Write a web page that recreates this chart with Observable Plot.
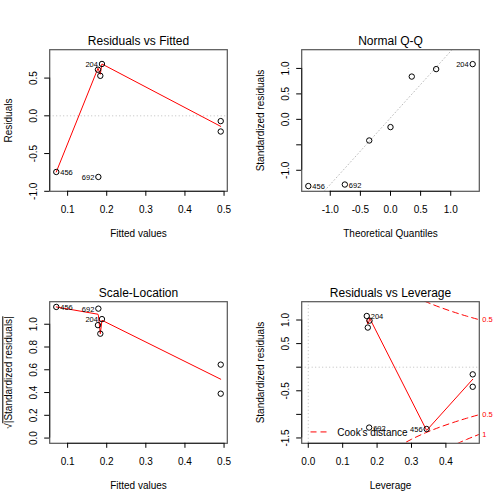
<!DOCTYPE html>
<html><head><meta charset="utf-8">
<script src="https://cdn.jsdelivr.net/npm/d3@7"></script>
<script src="https://cdn.jsdelivr.net/npm/@observablehq/plot@0.6"></script>
<style>
body{margin:0;background:#fff}
#root{position:relative;width:504px;height:504px;background:#fff}
#root svg{position:absolute}
</style>
</head><body><div id="root"></div>
<script>
const obsId      = ["456", "692", "204", "", "", "", ""];
const fitted     = [0.071, 0.1786, 0.1878, 0.1776, 0.1836, 0.4915, 0.4915];
const residuals  = [-0.744, -0.81, 0.687, 0.611, 0.53, -0.07, -0.208];
const stdResid   = [-1.31, -1.28, 1.085, 0.987, 0.84, -0.152, -0.415];
const theoQuant  = [-1.364, -0.758, 1.364, 0.758, 0.353, 0, -0.353];
const sqrtAbsStd = [1.152, 1.137, 1.045, 0.992, 0.917, 0.39, 0.645];
const leverage   = [0.344, 0.177, 0.170, 0.178, 0.173, 0.478, 0.478];

// ---- smoother lines ----
const smooth1X = [0.071, 0.1776, 0.1786, 0.1836, 0.1878, 0.4915];
const smooth1Y = [-0.744, 0.63, 0.62, 0.55, 0.687, -0.14];
const smooth3X = [0.071, 0.1776, 0.1786, 0.1836, 0.1878, 0.4915];
const smooth3Y = [1.152, 1.088, 1.08, 0.917, 1.035, 0.517];
const smooth4X = [0.170, 0.173, 0.177, 0.178, 0.344, 0.478];
const smooth4Y = [1.0, 0.916, 0.98, 1.044, -1.34, -0.256];

// ---- Q-Q reference line ends ----
const qqLineX = [-1.6, 1.6];
const qqLineY = [-2.064, 2.125];

// ---- Cook's distance contours (read) ----
const cookH       = [0.26, 0.30, 0.34, 0.38, 0.42, 0.46, 0.50];
const cookHalfR   = [1.687, 1.528, 1.393, 1.277, 1.175, 1.083, 1.0];
const cookOneH    = [0.38, 0.42, 0.46, 0.50];
const cookOneR    = [-1.806, -1.662, -1.532, -1.414];
const cookLabels  = ["0.5", "0.5", "1"];
const cookLabelR  = [1.006, -1.006, -1.423];

// ---- ticks ----
const ticksFit   = [0.1, 0.2, 0.3, 0.4, 0.5];
const ticksFitL  = ["0.1", "0.2", "0.3", "0.4", "0.5"];
const ticksRes   = [-1.0, -0.5, 0.0, 0.5];
const ticksResL  = ["-1.0", "-0.5", "0.0", "0.5"];
const ticksQ     = [-1.0, -0.5, 0.0, 0.5, 1.0];
const ticksQL    = ["-1.0", "-0.5", "0.0", "0.5", "1.0"];
const ticksQY    = [-1.0, -0.5, 0.0, 0.5, 1.0];
const ticksQYL   = ["-1.0", "", "0.0", "0.5", "1.0"];
const ticksSL    = [0.0, 0.2, 0.4, 0.6, 0.8, 1.0];
const ticksSLL   = ["0.0", "0.2", "0.4", "0.6", "0.8", "1.0"];
const ticksLev   = [0.0, 0.1, 0.2, 0.3, 0.4];
const ticksLevL  = ["0.0", "0.1", "0.2", "0.3", "0.4"];
const ticksRL    = [-1.5, -1.0, -0.5, 0.0, 0.5, 1.0];
const ticksRLL   = ["-1.5", "", "-0.5", "", "0.5", "1.0"];

const FONT = "Liberation Sans, Arial, Helvetica, sans-serif";
const obs = obsId.map((id, i) => ({
  id, fitted: fitted[i], resid: residuals[i], std: stdResid[i],
  q: theoQuant[i], sl: sqrtAbsStd[i], lev: leverage[i]
}));
const toRows = (xs, ys) => xs.map((x, i) => ({x, y: ys[i]}));

function labelMarks(x, y, leftIds) {
  const lab = obs.filter(d => d.id);
  return [
    Plot.text(lab.filter(d => leftIds.includes(d.id)), {x, y, text: "id", fontSize: 7.5, textAnchor: "end", dx: -4, dy: 3, lineAnchor: "bottom"}),
    Plot.text(lab.filter(d => !leftIds.includes(d.id)), {x, y, text: "id", fontSize: 7.5, textAnchor: "start", dx: 4, dy: 3, lineAnchor: "bottom"})
  ];
}

function panel(o) {
  const [x0] = o.xDomain, [y0] = o.yDomain;
  const xm = new Map(o.xTicks.map((t, i) => [t, o.xTickLabels[i]]));
  const ym = new Map(o.yTicks.map((t, i) => [t, o.yTickLabels[i]]));
  const svg = Plot.plot({
    width: 252, height: 252,
    marginLeft: 49.2, marginRight: 25.2, marginTop: 49.2, marginBottom: 61.2,
    style: {fontFamily: FONT, background: "transparent", overflow: "visible", color: "black"},
    x: {domain: o.xDomain, axis: null},
    y: {domain: o.yDomain, axis: null},
    marks: [
      ...o.marks,
      Plot.frame({stroke: "#555", strokeWidth: 1.2}),
      Plot.ruleY([y0], {x1: o.xTicks[0], x2: o.xTicks[o.xTicks.length - 1], stroke: "#222"}),
      Plot.ruleX([x0], {y1: o.yTicks[0], y2: o.yTicks[o.yTicks.length - 1], stroke: "#222"}),
      Plot.axisX(o.xTicks, {anchor: "bottom", tickSize: 5, tickPadding: 9.5, fontSize: 10, tickFormat: d => xm.get(d), label: null}),
      Plot.axisY(o.yTicks, {anchor: "left", tickSize: 5, tickPadding: 7.6, tickRotate: -90, fontSize: 10, tickFormat: d => ym.get(d), label: null}),
      Plot.text([o.title], {frameAnchor: "top", dy: -5.2, lineAnchor: "bottom", textAnchor: "middle", fontSize: 12}),
      Plot.text([o.xLabel], {frameAnchor: "bottom", dy: 46, lineAnchor: "bottom", textAnchor: "middle", fontSize: 10}),
      Plot.text([o.yLabel], {frameAnchor: "left", dx: -37.4, rotate: -90, lineAnchor: "bottom", textAnchor: "middle", fontSize: 10})
    ]
  });
  svg.style.left = o.left + "px";
  svg.style.top = o.top + "px";
  return svg;
}

const root = document.getElementById("root");
const dotted = {stroke: "#bebebe", strokeDasharray: "1,2.5", strokeWidth: 1};

// Panel 1: Residuals vs Fitted
root.appendChild(panel({
  left: 0, top: 0,
  xDomain: [0.0542, 0.5083], yDomain: [-1.0, 0.876],
  xTicks: ticksFit, xTickLabels: ticksFitL, yTicks: ticksRes, yTickLabels: ticksResL,
  title: "Residuals vs Fitted", xLabel: "Fitted values", yLabel: "Residuals",
  marks: [
    Plot.ruleY([0], dotted),
    Plot.line(toRows(smooth1X, smooth1Y), {x: "x", y: "y", stroke: "red", strokeWidth: 1}),
    Plot.dot(obs, {x: "fitted", y: "resid", r: 2.7, stroke: "black", fill: "none", strokeWidth: 1}),
    ...labelMarks("fitted", "resid", ["692", "204"])
  ]
}));

// Panel 2: Normal Q-Q
root.appendChild(panel({
  left: 252, top: 0,
  xDomain: [-1.474, 1.474], yDomain: [-1.413, 1.368],
  xTicks: ticksQ, xTickLabels: ticksQL, yTicks: ticksQY, yTickLabels: ticksQYL,
  title: "Normal Q-Q", xLabel: "Theoretical Quantiles", yLabel: "Standardized residuals",
  marks: [
    Plot.line(toRows(qqLineX, qqLineY), {x: "x", y: "y", ...dotted, clip: true}),
    Plot.dot(obs, {x: "q", y: "std", r: 2.7, stroke: "black", fill: "none", strokeWidth: 1}),
    ...labelMarks("q", "std", ["204"])
  ]
}));

// Panel 3: Scale-Location
const p3 = panel({
  left: 0, top: 252,
  xDomain: [0.0542, 0.5083], yDomain: [-0.046, 1.198],
  xTicks: ticksFit, xTickLabels: ticksFitL, yTicks: ticksSL, yTickLabels: ticksSLL,
  title: "Scale-Location", xLabel: "Fitted values", yLabel: "√|Standardized residuals|",
  marks: [
    Plot.line(toRows(smooth3X, smooth3Y), {x: "x", y: "y", stroke: "red", strokeWidth: 1}),
    Plot.dot(obs, {x: "fitted", y: "sl", r: 2.7, stroke: "black", fill: "none", strokeWidth: 1}),
    ...labelMarks("fitted", "sl", ["692", "204"])
  ]
});
root.appendChild(p3);
p3.querySelectorAll("text").forEach(t => {
  if (t.textContent === "√|Standardized residuals|") {
    t.textContent = "√";
    const ts = document.createElementNS("http://www.w3.org/2000/svg", "tspan");
    ts.setAttribute("text-decoration", "overline");
    ts.style.textDecoration = "overline";
    ts.textContent = "|Standardized residuals|";
    t.appendChild(ts);
  }
});

// Panel 4: Residuals vs Leverage
const cookRows = [
  ...cookH.map((h, i) => ({h, r: cookHalfR[i], g: "a"})),
  ...cookH.map((h, i) => ({h, r: -cookHalfR[i], g: "b"})),
  ...cookOneH.map((h, i) => ({h, r: cookOneR[i], g: "c"}))
];
const legendY = -1.372, legendX1 = 0.008, legendX2 = 0.062;
root.appendChild(panel({
  left: 252, top: 252,
  xDomain: [-0.0191, 0.4971], yDomain: [-1.613, 1.388],
  xTicks: ticksLev, xTickLabels: ticksLevL, yTicks: ticksRL, yTickLabels: ticksRLL,
  title: "Residuals vs Leverage", xLabel: "Leverage", yLabel: "Standardized residuals",
  marks: [
    Plot.ruleY([0], dotted),
    Plot.ruleX([0], dotted),
    Plot.line(cookRows, {x: "h", y: "r", z: "g", stroke: "red", strokeDasharray: "6,4", strokeWidth: 1, curve: "natural", clip: true}),
    Plot.line(toRows(smooth4X, smooth4Y), {x: "x", y: "y", stroke: "red", strokeWidth: 1}),
    Plot.dot(obs, {x: "lev", y: "std", r: 2.7, stroke: "black", fill: "none", strokeWidth: 1}),
    ...labelMarks("lev", "std", ["456"]),
    Plot.text(cookLabels.map((l, i) => ({l, r: cookLabelR[i]})), {y: "r", text: "l", frameAnchor: "right", dx: 3, textAnchor: "start", fill: "red", fontSize: 7.5}),
    Plot.ruleY([legendY], {x1: legendX1, x2: legendX2, stroke: "red", strokeDasharray: "6,4", strokeWidth: 1}),
    Plot.text(["Cook's distance"], {frameAnchor: "bottom-left", dx: 35.6, dy: -7.8, lineAnchor: "bottom", textAnchor: "start", fontSize: 10})
  ]
}));
</script>
</body></html>
